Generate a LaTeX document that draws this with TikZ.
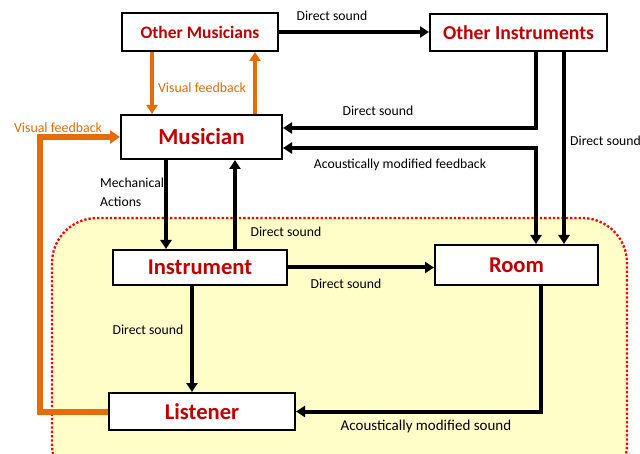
\documentclass[tikz,border=0pt]{standalone}
\usepackage{fontspec}
\setmainfont{Carlito}
\usetikzlibrary{arrows.meta}
\definecolor{boxred}{HTML}{C00000}
\definecolor{orng}{HTML}{E46C0A}
\definecolor{yell}{HTML}{FFFDC8}
\tikzset{
  box/.style={draw=black, line width=2pt, fill=white, text=boxred, font=\bfseries, inner sep=0pt},
  blk/.style={draw=black, line width=4pt, -{Triangle[length=9pt,width=11pt]}},
  blkb/.style={draw=black, line width=4pt, {Triangle[length=9pt,width=11pt]}-{Triangle[length=9pt,width=11pt]}},
  org/.style={draw=orng, line width=4pt, -{Triangle[length=9pt,width=11pt]}},
  orgthick/.style={draw=orng, line width=6pt, -{Triangle[length=10pt,width=13pt]}},
  lbl/.style={font=\fontsize{13.7}{15}\selectfont, text=black, inner sep=0pt},
  olbl/.style={font=\fontsize{13.9}{15}\selectfont, text=orng, inner sep=0pt},
}
\begin{document}
\begin{tikzpicture}[x=1pt,y=-1pt]
\useasboundingbox (0,0) rectangle (640,454);
\begin{scope}
\clip (0,0) rectangle (640,454);
\draw[red, fill=yell, line width=2.3pt, dotted, rounded corners=45pt] (52,218) rectangle (627,490);
\end{scope}
% boxes
\node[box, minimum width=156pt, minimum height=38pt, font=\bfseries\fontsize{17.5}{19}\selectfont] (OM) at (200,32) {Other Musicians};
\node[box, minimum width=177pt, minimum height=37pt, font=\bfseries\fontsize{19.7}{21}\selectfont] (OI) at (518.5,32.5) {Other Instruments};
\node[box, minimum width=161pt, minimum height=44pt, font=\bfseries\fontsize{23}{25}\selectfont] (Mus) at (201.5,137) {Musician};
\node[box, minimum width=174pt, minimum height=35pt, font=\bfseries\fontsize{22.6}{24}\selectfont] (Ins) at (200,267.5) {Instrument};
\node[box, minimum width=163pt, minimum height=40pt, font=\bfseries\fontsize{22.6}{24}\selectfont] (Room) at (516.5,265) {Room};
\node[box, minimum width=186pt, minimum height=37pt, font=\bfseries\fontsize{22.6}{24}\selectfont] (Lis) at (202,411.5) {Listener};
% connectors
\draw[blk] (OM.east) -- (OM.east -| OI.west);
\draw[org] ([xshift=31pt]OM.south west) -- ([xshift=31pt]OM.south west |- Mus.north);
\draw[org] ([xshift=135pt]Mus.north west) -- ([xshift=135pt]Mus.north west |- OM.south);
\draw[orgthick] (Lis.west) -- ++(-68,0) |- (Mus.west);
\draw[blk] ([xshift=-72pt]OI.south east) |- ([yshift=9pt]Mus.east);
\draw[blkb] ([xshift=102pt]Room.north west) |- ([yshift=-11pt]Mus.east);
\draw[blk] ([xshift=-44pt]OI.south east) -- ([xshift=-44pt]OI.south east |- Room.north);
\draw[blk] ([xshift=46pt]Mus.south west) -- ([xshift=46pt]Mus.south west |- Ins.north);
\draw[blk] ([xshift=123pt]Ins.north west) -- ([xshift=123pt]Ins.north west |- Mus.south);
\draw[blk] (Ins.east) -- (Ins.east -| Room.west);
\draw[blk] ([xshift=80pt]Ins.south west) -- ([xshift=80pt]Ins.south west |- Lis.north);
\draw[blk] ([xshift=-58pt]Room.south east) |- (Lis.east);
% labels
\node[lbl] (l1) at (332,16) {Direct sound};
\node[olbl] (l2) at (202,88) {Visual feedback};
\node[olbl] (l3) at (58,128) {Visual feedback};
\node[lbl] (l4) at (378,111) {Direct sound};
\node[lbl] (l5) at (400,165) {Acoustically modified feedback};
\node[lbl, anchor=west] (l6) at (570,141) {Direct sound};
\node[lbl, anchor=west, align=left, font=\fontsize{13.7}{19}\selectfont] (l7) at (100,192) {Mechanical\\Actions};
\node[lbl] (l8) at (286,232) {Direct sound};
\node[lbl] (l9) at (346,284) {Direct sound};
\node[lbl] (l10) at (148,330) {Direct sound};
\node[lbl, font=\fontsize{15}{17}\selectfont] (l11) at (426,427) {Acoustically modified sound};
\end{tikzpicture}
\end{document}
